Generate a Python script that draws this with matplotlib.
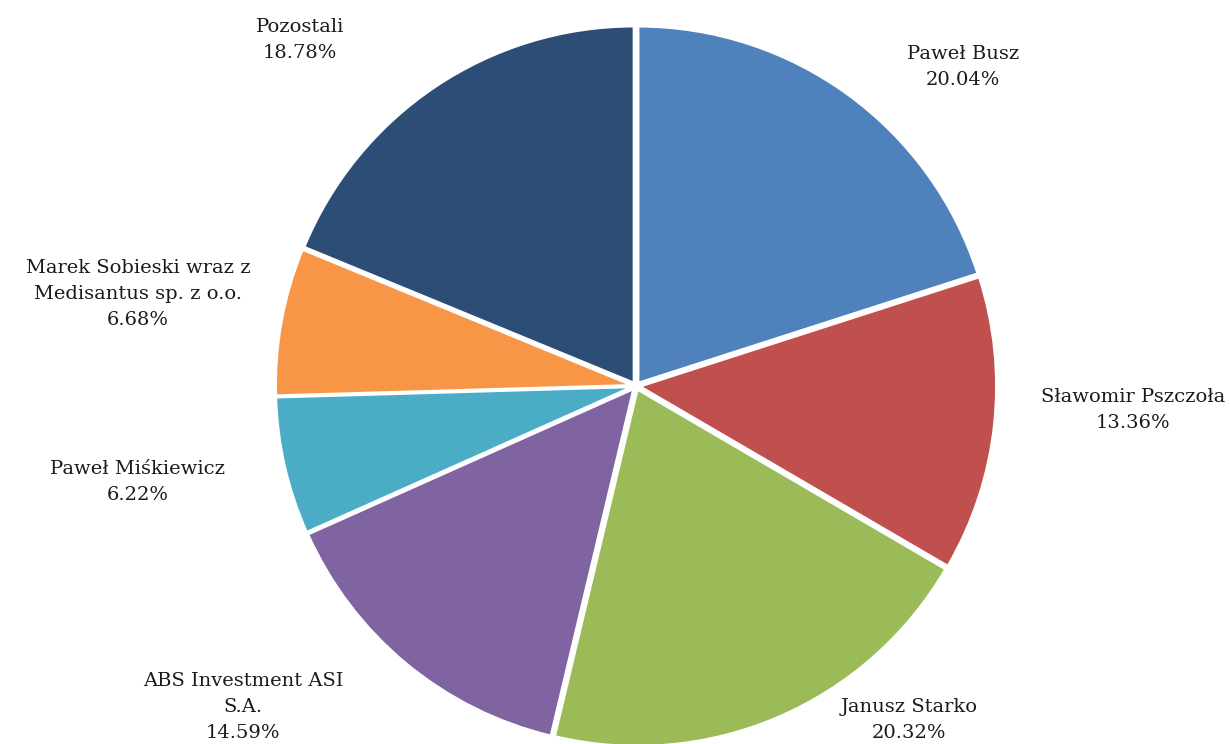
import matplotlib.pyplot as plt

# shareholder structure
names = ['Paweł Busz', 'Sławomir Pszczoła', 'Janusz Starko', 'ABS Investment ASI\nS.A.',
         'Paweł Miśkiewicz', 'Marek Sobieski wraz z\nMedisantus sp. z o.o.', 'Pozostali']
shares = [20.04, 13.36, 20.32, 14.59, 6.22, 6.68, 18.78]
colors = ['#4F81BD', '#C0504D', '#9BBB59', '#8064A2', '#4BACC6', '#F79646', '#2C4D75']

# label centres in pixel coords (x, y from top)
label_pos = [(963, 67), (1133, 410), (909, 720), (243, 707), (138, 482), (138, 294), (300, 40)]

W, H = 1231, 744
fig = plt.figure(figsize=(W / 100, H / 100), dpi=100)
ax = fig.add_axes([0, 0, 1, 1])
ax.set_xlim(0, W)
ax.set_ylim(0, H)
ax.set_aspect('equal')
ax.axis('off')

# explode is in data units (pixels here)
ax.pie(shares, colors=colors, startangle=90, counterclock=False,
       center=(636, H - 386), radius=357, explode=[3.5] * len(shares),
       wedgeprops=dict(edgecolor='white', linewidth=2))
ax.set_xlim(0, W)
ax.set_ylim(0, H)

for name, val, (x, y) in zip(names, shares, label_pos):
    ax.text(x, H - y, f'{name}\n{val:.2f}%', ha='center', va='center',
            fontsize=14, family='DejaVu Serif', linespacing=1.55, color='#1a1a1a')

fig.savefig('out.png', dpi=100)
